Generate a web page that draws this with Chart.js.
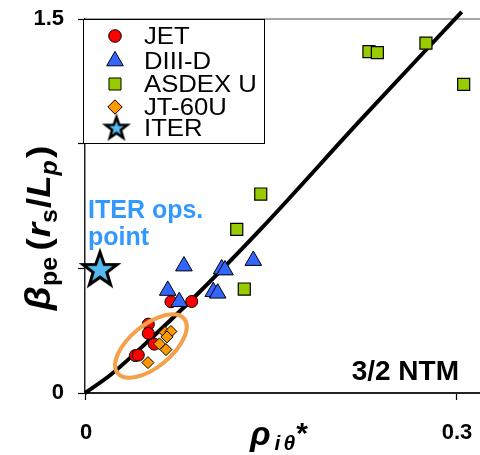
<!DOCTYPE html>
<html>
<head>
<meta charset="utf-8">
<script src="https://cdn.jsdelivr.net/npm/chart.js@4.4.1/dist/chart.umd.min.js"></script>
<style>
  html, body { margin: 0; padding: 0; background: #fff; }
</style>
</head>
<body>
<canvas id="c" width="480" height="455"></canvas>
<script>
// --- data ---
const jetX = [0.0695, 0.0863, 0.0512, 0.0512, 0.0560, 0.0407, 0.0431];
const jetY = [0.366, 0.367, 0.276, 0.239, 0.196, 0.150, 0.152];

const diiidX = [0.0800, 0.1105, 0.1132, 0.1361, 0.0669, 0.1037, 0.1073, 0.0762];
const diiidY = [0.509, 0.497, 0.493, 0.531, 0.411, 0.406, 0.400, 0.366];

const asdexX = [0.2296, 0.2364, 0.2757, 0.3062, 0.1421, 0.1227, 0.1288];
const asdexY = [1.369, 1.365, 1.403, 1.238, 0.798, 0.656, 0.417];

const jt60X = [0.0647, 0.0695, 0.0663, 0.0602, 0.0655, 0.0509];
const jt60Y = [0.243, 0.247, 0.225, 0.197, 0.174, 0.122];

const iterX = [0.0121];
const iterY = [0.493];

// fit curve
const fitX = [0, 0.02, 0.045, 0.0916, 0.1415, 0.2229, 0.3046];
const fitY = [0, 0.07, 0.18, 0.400, 0.654, 1.095, 1.529];

const xTicks = [0, 0.3];
const yTicks = [0, 0.5, 1.0, 1.5];
const yLabelled = [0, 1.5];

const legendLabels = ['JET', 'DIII-D', 'ASDEX U', 'JT-60U', 'ITER'];

// circled group (centre in data units)
const ringCentre = { x: 0.0533, y: 0.1884 };

const FONT = "'Liberation Sans', Arial, Helvetica, sans-serif";
const colJet = '#ff0000', colD3d = '#3366ff', colAsdex = '#99cc00', colJt = '#ff9900', colIter = '#55bbee';

// where the plot box sits on the 480x455 page
const box = { left: 85, top: 19, right: 480, bottom: 393 };

function pts(xs, ys) { return xs.map((x, i) => ({ x: x, y: ys[i] })); }

function starPath(g, cx, cy, R, r) {
  g.beginPath();
  for (let i = 0; i < 10; i++) {
    const rad = i % 2 ? r : R;
    const a = -Math.PI / 2 + i * Math.PI / 5;
    const px = cx + rad * Math.cos(a), py = cy + rad * Math.sin(a);
    if (i) g.lineTo(px, py); else g.moveTo(px, py);
  }
  g.closePath();
}

function makeStar(R, lw) {
  const s = Math.ceil(2 * (R + lw) + 4);
  const cv = document.createElement('canvas');
  cv.width = s; cv.height = s;
  const g = cv.getContext('2d');
  starPath(g, s / 2, s / 2, R, R * 0.4);
  g.fillStyle = colIter; g.fill();
  g.lineWidth = lw; g.strokeStyle = '#000'; g.lineJoin = 'miter'; g.stroke();
  return cv;
}

const bigStar = makeStar(18, 3);
const smallStar = makeStar(11.5, 2.5);

function marker(ctx, style, x, y, r, fill) {
  ctx.save();
  ctx.fillStyle = fill; ctx.strokeStyle = '#000'; ctx.lineWidth = 1;
  ctx.beginPath();
  if (style === 'circle') {
    ctx.arc(x, y, r, 0, Math.PI * 2);
  } else if (style === 'triangle') {
    for (let i = 0; i < 3; i++) {
      const a = i * 2 * Math.PI / 3;
      const px = x + Math.sin(a) * r, py = y - Math.cos(a) * r;
      if (i) ctx.lineTo(px, py); else ctx.moveTo(px, py);
    }
    ctx.closePath();
  } else if (style === 'rect') {
    const s = r * Math.SQRT1_2;
    ctx.rect(x - s, y - s, 2 * s, 2 * s);
  } else if (style === 'rectRot') {
    ctx.moveTo(x, y - r); ctx.lineTo(x + r, y); ctx.lineTo(x, y + r); ctx.lineTo(x - r, y);
    ctx.closePath();
  }
  ctx.fill(); ctx.stroke();
  ctx.restore();
}

function runsWidth(ctx, runs) {
  let w = 0;
  runs.forEach(r => { ctx.font = r.f; w += ctx.measureText(r.t).width + (r.gap || 0); });
  return w;
}

const extras = {
  id: 'extras',
  beforeDatasetsDraw(chart) {
    const { ctx, chartArea: a } = chart;
    ctx.save();
    ctx.strokeStyle = '#888'; ctx.lineWidth = 1.5;
    ctx.beginPath(); ctx.moveTo(a.left, a.top); ctx.lineTo(a.right, a.top); ctx.stroke();
    ctx.restore();
  },
  afterDatasetsDraw(chart) {
    const { ctx, scales } = chart;
    const cx = scales.x.getPixelForValue(ringCentre.x);
    const cy = scales.y.getPixelForValue(ringCentre.y);
    ctx.save();
    ctx.strokeStyle = '#f5a04a'; ctx.lineWidth = 4;
    ctx.beginPath();
    ctx.ellipse(cx, cy, 43, 21, -39.4 * Math.PI / 180, 0, Math.PI * 2);
    ctx.stroke();
    ctx.restore();
  },
  afterDraw(chart) {
    const { ctx, scales, chartArea } = chart;
    ctx.save();

    // x tick labels (placed on the scale's own tick positions)
    ctx.fillStyle = '#000';
    ctx.font = 'bold 22px ' + FONT;
    ctx.textAlign = 'center';
    ctx.textBaseline = 'alphabetic';
    xTicks.forEach(v => {
      ctx.fillText(String(v), scales.x.getPixelForValue(v) + 1, chartArea.bottom + 46);
    });
    ctx.textAlign = 'left';

    // legend box
    ctx.fillStyle = '#fff';
    ctx.fillRect(83, 19, 181, 124);
    ctx.strokeStyle = '#000'; ctx.lineWidth = 1;
    ctx.strokeRect(83.5, 19.5, 181, 124);
    const rowsY = [36, 61, 84, 107, 128.5];
    const styles = ['circle', 'triangle', 'rect', 'rectRot', 'star'];
    const fills = [colJet, colD3d, colAsdex, colJt, colIter];
    const radii = [6.3, 9.6, 8.5, 7.2, 0];
    legendLabels.forEach((lab, i) => {
      const y = rowsY[i];
      if (styles[i] === 'star') {
        ctx.drawImage(smallStar, 116.5 - smallStar.width / 2, y - smallStar.height / 2);
      } else {
        marker(ctx, styles[i], 115, y, radii[i], fills[i]);
      }
      ctx.save();
      ctx.beginPath(); ctx.rect(84, 20, 179, 122); ctx.clip();
      ctx.translate(144, y);
      ctx.scale(1.07, 1);
      ctx.fillStyle = '#000';
      ctx.font = '24px ' + FONT;
      ctx.textBaseline = 'middle';
      ctx.fillText(lab, 0, 1);
      ctx.restore();
    });

    // annotations
    ctx.fillStyle = '#3399ff';
    ctx.font = 'bold 25px ' + FONT;
    ctx.textBaseline = 'alphabetic';
    ctx.textAlign = 'left';
    ctx.fillText('ITER ops.', 88, 218);
    ctx.fillText('point', 88, 245);

    ctx.fillStyle = '#000';
    ctx.font = 'bold 28px ' + FONT;
    ctx.textAlign = 'right';
    ctx.fillText('3/2 NTM', 459, 380);
    ctx.textAlign = 'left';

    // x axis title: rho_{i theta}^*
    const xr = [
      { t: 'ρ', f: 'italic bold 34px ' + FONT, dy: 0, gap: 4 },
      { t: 'i', f: 'italic bold 21px ' + FONT, dy: 5, gap: 3 },
      { t: 'θ', f: 'italic bold 21px ' + FONT, dy: 5, gap: 1 },
      { t: '*', f: 'bold 30px ' + FONT, dy: -2, gap: 0 }
    ];
    let x = 250;
    xr.forEach(r => {
      ctx.font = r.f;
      ctx.fillText(r.t, x, 445 + r.dy);
      x += ctx.measureText(r.t).width + r.gap;
    });

    // y axis title: beta_pe (r_s / L_p)
    const yr = [
      { t: 'β', f: 'italic bold 36px ' + FONT, dy: 0, gap: 0 },
      { t: 'pe', f: 'bold 23px ' + FONT, dy: 7, gap: 6 },
      { t: '(', f: 'bold 34px ' + FONT, dy: 0, gap: 1 },
      { t: 'r', f: 'italic bold 34px ' + FONT, dy: 0, gap: 0 },
      { t: 's', f: 'bold 23px ' + FONT, dy: 7, gap: 1 },
      { t: '/', f: 'bold 34px ' + FONT, dy: 0, gap: 0 },
      { t: 'L', f: 'italic bold 34px ' + FONT, dy: 0, gap: 0 },
      { t: 'p', f: 'italic bold 23px ' + FONT, dy: 7, gap: 2 },
      { t: ')', f: 'bold 34px ' + FONT, dy: 0, gap: 0 }
    ];
    const total = runsWidth(ctx, yr) * 1.08;
    ctx.translate(50, 228);
    ctx.rotate(-Math.PI / 2);
    ctx.scale(1.08, 1);
    let u = -total / 2 / 1.08;
    yr.forEach(r => {
      ctx.font = r.f;
      ctx.fillText(r.t, u, r.dy);
      u += ctx.measureText(r.t).width + r.gap;
    });
    ctx.restore();
  }
};

new Chart(document.getElementById('c'), {
  type: 'scatter',
  data: {
    datasets: [
      { label: 'ITER', data: pts(iterX, iterY), pointStyle: bigStar, clip: false },
      { label: 'DIII-D', data: pts(diiidX, diiidY), pointStyle: 'triangle', pointRadius: 9.6,
        backgroundColor: colD3d, borderColor: '#000', borderWidth: 1 },
      { label: 'JT-60U', data: pts(jt60X, jt60Y), pointStyle: 'rectRot', pointRadius: 6,
        backgroundColor: colJt, borderColor: '#000', borderWidth: 1 },
      { label: 'JET', data: pts(jetX, jetY), pointStyle: 'circle', pointRadius: 6,
        backgroundColor: colJet, borderColor: '#000', borderWidth: 1 },
      { label: 'ASDEX U', data: pts(asdexX, asdexY), pointStyle: 'rect', pointRadius: 8.5,
        backgroundColor: colAsdex, borderColor: '#000', borderWidth: 1.2 },
      { label: 'fit', type: 'line', data: pts(fitX, fitY), borderColor: '#000', borderWidth: 4,
        pointRadius: 0, cubicInterpolationMode: 'monotone', showLine: true, fill: false, clip: false }
    ]
  },
  options: {
    responsive: false,
    animation: false,
    layout: { autoPadding: false, padding: { top: box.top, left: 0, right: 0, bottom: 0 } },
    plugins: { legend: { display: false }, tooltip: { enabled: false } },
    scales: {
      x: {
        type: 'linear', min: 0, max: 0.3194,
        afterBuildTicks: s => { s.ticks = xTicks.map(v => ({ value: v })); },
        afterFit: s => { s.height = 455 - box.bottom; s.paddingLeft = 0; s.paddingRight = 0; },
        ticks: { display: false },
        grid: { drawOnChartArea: false, drawTicks: true, tickLength: 7, tickColor: '#000', tickWidth: 1.2 },
        border: { display: true, color: '#222', width: 2 }
      },
      y: {
        type: 'linear', min: 0, max: 1.5,
        afterBuildTicks: s => { s.ticks = yTicks.map(v => ({ value: v })); },
        afterFit: s => { s.width = box.left; s.paddingTop = 0; s.paddingBottom = 0; },
        ticks: {
          color: '#000', font: { family: FONT, size: 22, weight: 'bold' }, padding: 14,
          autoSkip: false,
          callback: v => yLabelled.includes(v) ? String(v) : ''
        },
        grid: { drawOnChartArea: false, tickLength: 7, tickColor: '#000', tickWidth: 1.2 },
        border: { display: true, color: '#222', width: 1.5 }
      }
    }
  },
  plugins: [extras]
});
</script>
</body>
</html>
